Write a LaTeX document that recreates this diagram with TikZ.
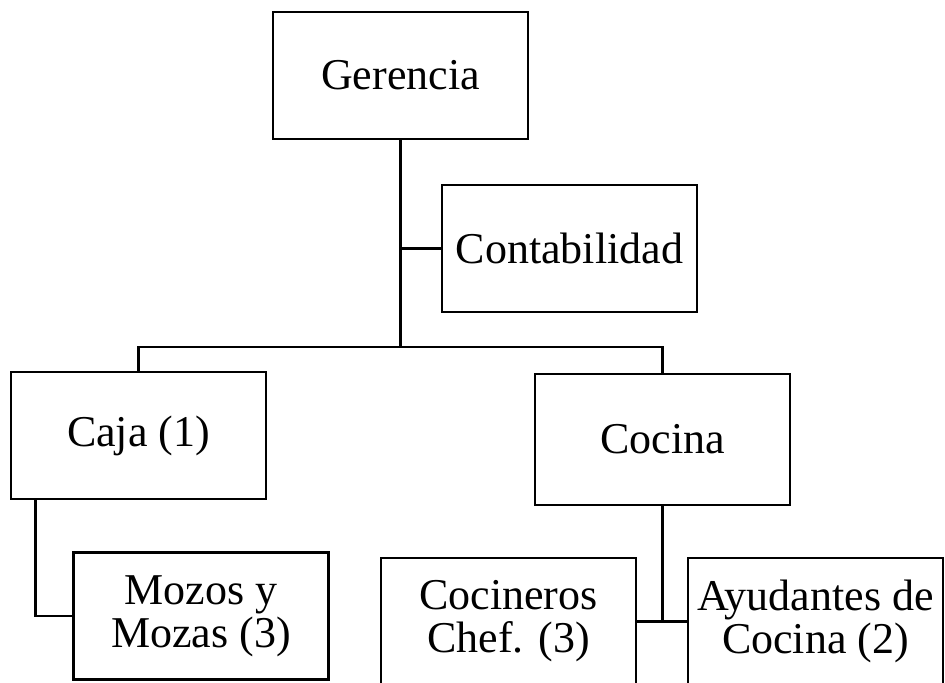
\documentclass[tikz,border=0pt]{standalone}
\usepackage{fontspec}
\setmainfont{Liberation Serif}
\usepackage{tikz}

\begin{document}
\begin{tikzpicture}[
    x=0.5pt, y=-0.5pt,
    box/.style={rectangle, draw=black, line width=1.3pt, inner sep=2pt,
                minimum width=127.5pt, minimum height=63.5pt, align=center,
                font=\fontsize{22}{21.5}\selectfont},
    link/.style={line width=1.3pt, black}
]
\useasboundingbox (0,0) rectangle (945,682);

% Boxes
\node[box] (ger) at (400.5,75.5) {Gerencia};
\node[box] (con) at (569.5,248.5) {Contabilidad};
\node[box] (caja) at (138.5,435.5) {Caja (1)};
\node[box, minimum height=65.5pt] (coc) at (662.5,439.5) {Cocina};
\node[box] (mozos) at (201,616) {Mozos y\\Mozas (3)};
\node[box] (chef) at (508.5,621.5) {Cocineros\\Chef. (3)};
\node[box] (ayu) at (815.5,621.5) {Ayudantes de\\Cocina (2)};

% Lines
\coordinate (split) at (400.5,347);
\draw[link] (ger.south) -- (split);
\draw[link] (ger.south |- con.west) -- (con.west);
\draw[link] (caja.north) |- (split) -| (coc.north);
\draw[link] ([xshift=13pt]caja.south west) |- (mozos.west);
\draw[link] (coc.south) -- (coc.south |- chef.east);
\draw[link] (chef.east) -- (ayu.west);

\end{tikzpicture}
\end{document}
